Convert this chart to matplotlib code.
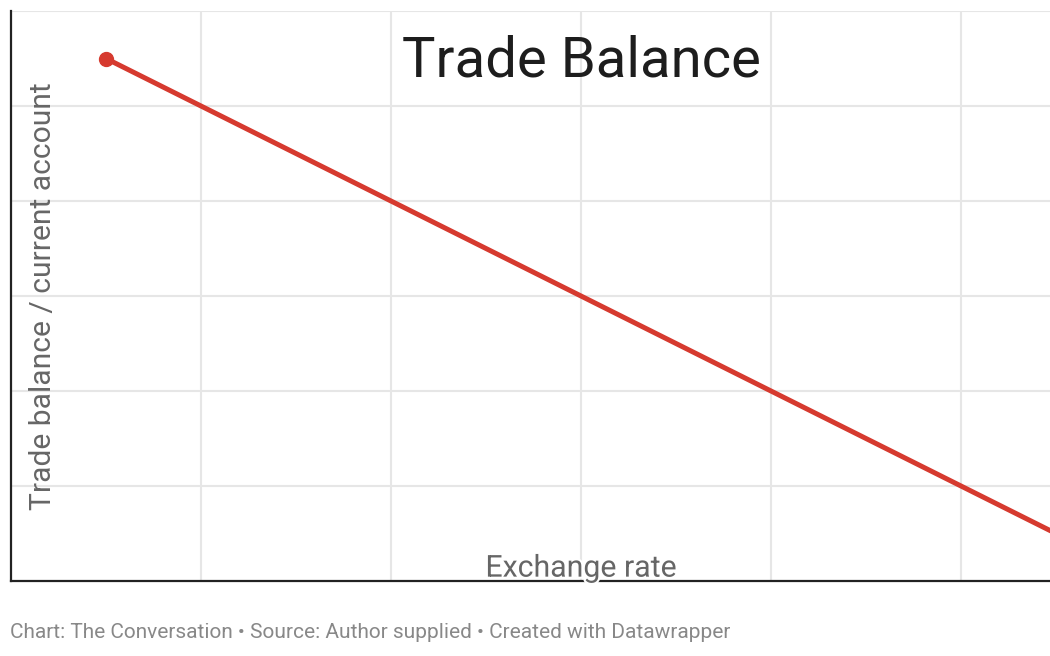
import matplotlib.pyplot as plt
import matplotlib.patheffects as pe

plt.rcParams['font.family'] = ['Roboto', 'DejaVu Sans']

# Data (schematic relationship)
exchange_rate = [0.5, 5.5]
trade_balance = [5.5, 0.5]

fig = plt.figure(figsize=(10.5, 6.56), dpi=100)
ax = fig.add_axes([11 / 1050, 75 / 656, 1 - 11 / 1050, 570 / 656])

ax.plot(exchange_rate, trade_balance, color="#d63a2f", linewidth=3.6,
        solid_capstyle="butt", zorder=3)
ax.plot(exchange_rate[0], trade_balance[0], "o", color="#d63a2f",
        markersize=10, zorder=4)

ax.set_xlim(0, 1039 / 190)
ax.set_ylim(0, 6)
ax.set_xticks([1, 2, 3, 4, 5])
ax.set_yticks([1, 2, 3, 4, 5, 6])
ax.tick_params(length=0, labelbottom=False, labelleft=False)
ax.grid(True, color="#e6e6e6", linewidth=1.5, zorder=0)

for s in ["top", "right"]:
    ax.spines[s].set_visible(False)
ax.spines["left"].set_linewidth(1.6)
ax.spines["bottom"].set_linewidth(1.6)
ax.spines["left"].set_color("#222222")
ax.spines["bottom"].set_color("#222222")

ax.text(3.0, 5.47, "Trade Balance", ha="center", va="center",
        fontsize=40.5, color="#1d1d1d", zorder=5)

ax.text(0.17, 3.0, "Trade balance / current account", rotation=90,
        ha="center", va="center", fontsize=21.6, color="#666666", zorder=5)

ax.text(3.0, 0.13, "Exchange rate", ha="center", va="center",
        fontsize=21.8, color="#666666", zorder=5,
        path_effects=[pe.withStroke(linewidth=3, foreground="white")])

fig.text(10 / 1050, 1 - 633 / 656,
         "Chart: The Conversation \u2022 Source: Author supplied \u2022 Created with Datawrapper",
         ha="left", va="center", fontsize=15, color="#888888")

fig.savefig("out.png", dpi=100)
